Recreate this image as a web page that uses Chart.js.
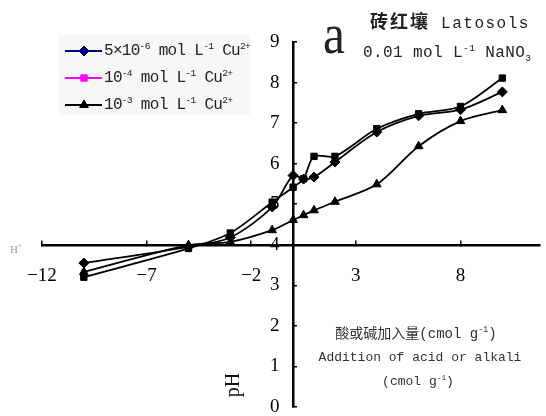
<!DOCTYPE html>
<html>
<head>
<meta charset="utf-8">
<script src="https://cdn.jsdelivr.net/npm/chart.js@4"></script>
<style>
body { margin: 0; background: #fff; }
#wrap { position: relative; width: 546px; height: 416px; overflow: hidden; }
.t { position: absolute; white-space: nowrap; color: #222; font-family: "Liberation Mono", "Noto Sans CJK SC", monospace; line-height: 1; }
.t sup, .t sub { font-size: 60%; line-height: 0; }
.lg { font-size: 16px; letter-spacing: -0.7px; left: 104px; }
</style>
</head>
<body>
<div id="wrap">
  <canvas id="chart"></canvas>
  <div class="t lg" style="top:43px;">5×10<sup>-6</sup> mol L<sup>-1</sup> Cu<sup>2+</sup></div>
  <div class="t lg" style="top:70px;">10<sup>-4</sup> mol L<sup>-1</sup> Cu<sup>2+</sup></div>
  <div class="t lg" style="top:97px;">10<sup>-3</sup> mol L<sup>-1</sup> Cu<sup>2+</sup></div>
  <div class="t" style="left:323px;top:5px;font-size:58px;font-family:'Liberation Serif',serif;transform:scaleX(0.85);transform-origin:left top;">a</div>
  <div class="t" style="left:370px;top:11px;font-size:16px;letter-spacing:1.5px;"><b style="font-family:'Noto Sans CJK SC';font-size:18px;letter-spacing:2px;">砖红壤</b> Latosols</div>
  <div class="t" style="left:363px;top:45px;font-size:16px;letter-spacing:0.4px;">0.01 mol L<sup>-1</sup> NaNO<sub>3</sub></div>
  <div class="t" style="left:416px;top:327px;font-size:14px;transform:translateX(-50%);color:#333;">酸或碱加入量(cmol g<sup>-1</sup>)</div>
  <div class="t" style="left:420px;top:351px;font-size:13px;transform:translateX(-50%);color:#333;">Addition of acid or alkali</div>
  <div class="t" style="left:418px;top:375px;font-size:13px;transform:translateX(-50%);color:#333;">(cmol g<sup>-1</sup>)</div>
  <div class="t" style="left:10px;top:244px;font-size:11px;font-family:'Liberation Serif',serif;color:#999;">H<sup>+</sup></div>
  <div class="t" style="left:232px;top:385px;font-size:20px;font-family:'Liberation Serif',serif;color:#111;transform:translate(-50%,-50%) rotate(-90deg);">pH</div>
</div>
<script>
// acid (-) / alkali (+) added, cmol/g
const addition = [-10, -5, -3, -1, 0, 0.5, 1, 2, 4, 6, 8, 10];
const phCu5e6 = [3.55, 3.95, 4.18, 4.93, 5.71, 5.62, 5.67, 6.04, 6.78, 7.18, 7.33, 7.77];
const phCu1e4 = [3.20, 3.91, 4.29, 5.05, 5.42, 5.63, 6.18, 6.18, 6.86, 7.23, 7.41, 8.11];
const phCu1e3 = [3.33, 3.99, 4.07, 4.36, 4.61, 4.73, 4.85, 5.06, 5.49, 6.43, 7.05, 7.32];
const seriesNames = ['5×10-6 mol L-1 Cu2+', '10-4 mol L-1 Cu2+', '10-3 mol L-1 Cu2+'];
const xTicks = [-12, -7, -2, 3, 8];
const yTicks = [0, 1, 2, 3, 4, 5, 6, 7, 8, 9];

const legendColors = ['#000080', '#ff00ff', '#000000'];
const styles = ['rectRot', 'rect', 'triangle'];
const radii = [5, 4.5, 5];

const toPoints = vals => addition.map((x, i) => ({ x: x, y: vals[i] }));

const sideLegend = {
  id: 'sideLegend',
  beforeDraw(chart) {
    const ctx = chart.ctx;
    ctx.save();
    ctx.fillStyle = '#f7f7f7';
    ctx.fillRect(58, 35, 192, 80);
    ctx.restore();
  },
  afterDraw(chart) {
    const ctx = chart.ctx;
    ctx.save();
    chart.data.datasets.forEach((ds, i) => {
      const y = 51 + i * 27;
      ctx.strokeStyle = legendColors[i];
      ctx.fillStyle = legendColors[i];
      ctx.lineWidth = 2;
      ctx.beginPath();
      ctx.moveTo(65, y);
      ctx.lineTo(102, y);
      ctx.stroke();
      ctx.lineWidth = 1;
      Chart.helpers.drawPoint(ctx, { pointStyle: styles[i], radius: radii[i], borderWidth: 1, rotation: 0 }, 84, y);
    });
    ctx.restore();
  }
};

const serif = { family: 'Liberation Serif', size: 19 };

new Chart(document.getElementById('chart'), {
  type: 'line',
  data: {
    datasets: [phCu5e6, phCu1e4, phCu1e3].map((vals, i) => ({
      label: seriesNames[i],
      data: toPoints(vals),
      borderColor: '#000',
      backgroundColor: '#000',
      borderWidth: 1.8,
      pointStyle: styles[i],
      pointRadius: radii[i],
      pointBorderWidth: 1,
      tension: 0.3,
      clip: false
    }))
  },
  options: {
    responsive: true,
    maintainAspectRatio: false,
    animation: false,
    layout: { padding: { left: 42, right: 0, top: 42, bottom: 9 } },
    plugins: { legend: { display: false }, tooltip: { enabled: false } },
    scales: {
      x: {
        type: 'linear',
        min: -12,
        max: 11.8,
        position: { y: 4 },
        afterBuildTicks: s => { s.ticks = xTicks.map(v => ({ value: v })); },
        afterFit: s => { s.height = 0; s.paddingLeft = 0; s.paddingRight = 0; },
        grid: { drawOnChartArea: false, tickLength: -6, color: '#000', lineWidth: 1.5 },
        border: { color: '#000', width: 2.5 },
        ticks: {
          padding: 26, color: '#000', font: serif, maxRotation: 0, autoSkip: false,
          callback: v => v < 0 ? '\u2212' + Math.abs(v) : String(v)
        }
      },
      y: {
        type: 'linear',
        min: 0,
        max: 9,
        position: { x: 0 },
        afterBuildTicks: s => { s.ticks = yTicks.map(v => ({ value: v })); },
        afterFit: s => { s.width = 0; s.paddingTop = 0; s.paddingBottom = 0; },
        grid: { drawOnChartArea: false, tickLength: -5, color: '#000', lineWidth: 1.5 },
        border: { color: '#000', width: 2.5 },
        ticks: { display: false }
      },
      // tick labels of the pH axis, set a little left of the axis line
      yLabels: {
        type: 'linear',
        min: 0,
        max: 9,
        position: { x: -0.65 },
        afterBuildTicks: s => { s.ticks = yTicks.map(v => ({ value: v })); },
        afterFit: s => { s.width = 0; s.paddingTop = 0; s.paddingBottom = 0; },
        grid: { display: false },
        border: { display: false },
        ticks: { padding: 0, color: '#000', font: serif, autoSkip: false }
      }
    }
  },
  plugins: [sideLegend]
});
</script>
</body>
</html>
